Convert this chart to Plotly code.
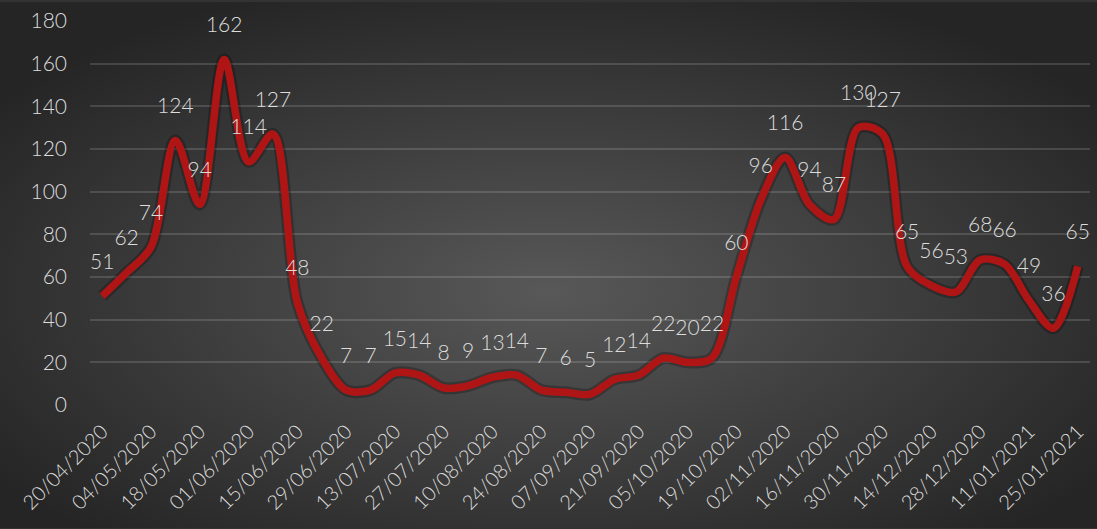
import base64
import pandas as pd
import plotly.graph_objects as go

dates = [d.strftime("%d/%m/%Y") for d in pd.date_range("2020-04-20", periods=41, freq="7D")]
values = [51, 62, 74, 124, 94, 162, 114, 127, 48, 22, 7, 7, 15, 14, 8, 9, 13, 14, 7, 6, 5,
          12, 14, 22, 20, 22, 60, 96, 116, 94, 87, 130, 127, 65, 56, 53, 68, 66, 49, 36, 65]
tick_labels = dates[::2]
y_ticks = list(range(0, 181, 20))

W, H = 1097, 529
L, R, T, B = 90, 7, 19, 124

svg = f'''<svg xmlns="http://www.w3.org/2000/svg" width="{W}" height="{H}" viewBox="0 0 {W} {H}" preserveAspectRatio="none">
<defs><radialGradient id="g" cx="0.5" cy="0.55" r="0.62" gradientUnits="objectBoundingBox">
<stop offset="0" stop-color="#585858"/><stop offset="1" stop-color="#252525"/></radialGradient></defs>
<rect width="{W}" height="{H}" fill="url(#g)"/></svg>'''
src = "data:image/svg+xml;base64," + base64.b64encode(svg.encode()).decode()

pw, ph = W - L - R, H - T - B
font = "Lato, 'Open Sans', sans-serif"
txt = "#dcdcdc"

fig = go.Figure()
fig.add_trace(go.Scatter(
    x=dates, y=values, mode="lines", line=dict(color="rgba(0,0,0,0.25)", width=12, shape="spline", smoothing=0.9),
    hoverinfo="skip", showlegend=False))
fig.add_trace(go.Scatter(
    x=dates, y=values, mode="lines",
    line=dict(color="#b01515", width=7.5, shape="spline", smoothing=0.9),
    showlegend=False))
fig.add_trace(go.Scatter(
    x=dates, y=values, mode="markers+text", text=[str(v) for v in values], textposition="top center",
    textfont=dict(family=font, size=21, color=txt, weight=300),
    marker=dict(size=34, color="rgba(0,0,0,0)"),
    cliponaxis=False, showlegend=False, hoverinfo="skip"))

fig.add_layout_image(dict(source=src, xref="paper", yref="paper", x=-L / pw, y=1 + T / ph,
                          sizex=W / pw, sizey=H / ph, sizing="stretch", layer="below",
                          xanchor="left", yanchor="top"))

fig.update_layout(
    width=W, height=H, margin=dict(l=L, r=R, t=T, b=B),
    paper_bgcolor="#333333", plot_bgcolor="rgba(0,0,0,0)",
    font=dict(family=font, color=txt),
    xaxis=dict(type="category", range=[-0.5, 40.5], tickmode="array", tickvals=tick_labels,
               ticktext=tick_labels, tickangle=-45, tickfont=dict(size=20, color=txt, weight=300),
               showgrid=False, zeroline=False, showline=False, ticks="", ticklabelstandoff=10),
    yaxis=dict(range=[0, 180], tickmode="array", tickvals=y_ticks, tickfont=dict(size=21, color=txt, weight=300),
               gridcolor="rgba(255,255,255,0.14)", gridwidth=1.5, zeroline=False, showline=False,
               ticks="", ticklabelstandoff=22),
)
fig.write_html("out.html", config={"displayModeBar": False},
               post_script="document.body.style.margin='0';document.body.style.background='#252525';")
